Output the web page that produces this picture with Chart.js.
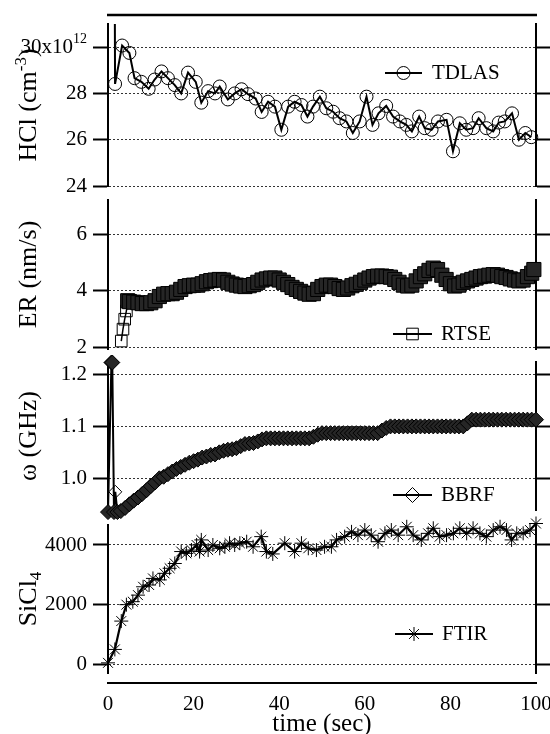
<!DOCTYPE html>
<html>
<head>
<meta charset="utf-8">
<script src="https://cdn.jsdelivr.net/npm/chart.js@4.4.1/dist/chart.umd.min.js"></script>
<style>
  html, body { margin: 0; padding: 0; background: #fff; }
  #wrap { position: relative; width: 550px; height: 734px; overflow: hidden; }
  canvas { position: absolute; left: 0; }
</style>
</head>
<body>
<div id="wrap">
  <canvas id="pHcl" width="550" height="200" style="top:0px"></canvas>
  <canvas id="pEr" width="550" height="172" style="top:188px"></canvas>
  <canvas id="pW" width="550" height="172" style="top:350px"></canvas>
  <canvas id="pSi" width="550" height="221" style="top:513px"></canvas>
</div>
<script>
// ---- data ----
const xTicks = [0, 20, 40, 60, 80, 100];

// TDLAS (HCl, units of 1e12 cm^-3); first point is the off-scale spike
const hclTime = [1.55, 1.65, 3.3, 5.0, 6.2, 7.8, 9.5, 10.9, 12.5, 14.0, 15.6, 17.1, 18.7, 20.5, 21.8, 23.4, 25.0,
  26.1, 28.0, 29.6, 31.2, 32.7, 34.5, 35.9, 37.4, 39.0, 40.5, 42.1, 43.6, 45.2, 46.6, 47.9, 49.5, 51.0, 52.6, 54.1,
  55.7, 57.2, 58.8, 60.4, 61.8, 63.2, 65.0, 66.6, 68.2, 69.7, 71.0, 72.7, 74.0, 75.6, 77.1, 79.1, 80.6, 82.2, 83.7,
  85.3, 86.6, 88.4, 90.0, 91.3, 92.7, 94.4, 96.0, 97.5, 98.9];
const hclValue = [34, 28.41, 30.07, 29.75, 28.66, 28.5, 28.2, 28.6, 28.95, 28.66, 28.36, 28.0, 28.9, 28.5, 27.6, 28.1, 28.0,
  28.3, 27.74, 28.0, 28.18, 27.97, 27.78, 27.2, 27.64, 27.43, 26.43, 27.43, 27.64, 27.5, 27.0, 27.43, 27.86, 27.36, 27.21, 26.93,
  26.79, 26.29, 26.79, 27.86, 26.64, 27.14, 27.46, 27.0, 26.79, 26.64, 26.36, 27.0, 26.5, 26.43, 26.79, 26.86, 25.5, 26.71, 26.43,
  26.5, 26.93, 26.5, 26.36, 26.74, 26.79, 27.14, 26.0, 26.29, 26.11];
const hclTicks = [24, 26, 28, 30];

// RTSE etch rate (nm/s)
const rtseTime = [3.1, 3.5, 3.9, 4.3, 4.6, 5, 6, 7, 8, 9, 10, 11, 12, 13, 14, 15, 16, 17, 18, 19, 20, 21, 22, 23, 24,
  25, 26, 27, 28, 29, 30, 31, 32, 33, 34, 35, 36, 37, 38, 39, 40, 41, 42, 43, 44, 45, 46, 47, 48, 49, 50, 51, 52,
  53, 54, 55, 56, 57, 58, 59, 60, 61, 62, 63, 64, 65, 66, 67, 68, 69, 70, 71, 72, 73, 74, 75, 76, 77, 78, 79, 80,
  81, 82, 83, 84, 85, 86, 87, 88, 89, 90, 91, 92, 93, 94, 95, 96, 97, 98, 99, 99.5];
const rtseValue = [2.23, 2.65, 3.0, 3.29, 3.65, 3.62, 3.6, 3.58, 3.55, 3.55, 3.58, 3.65, 3.8, 3.88, 3.9, 3.9, 3.95, 4.05,
  4.15, 4.18, 4.2, 4.2, 4.25, 4.32, 4.36, 4.38, 4.4, 4.38, 4.3, 4.24, 4.2, 4.17, 4.15, 4.18, 4.22, 4.3, 4.38, 4.42, 4.45,
  4.45, 4.38, 4.3, 4.22, 4.12, 4.05, 3.98, 3.92, 3.88, 3.9, 4.05, 4.15, 4.2, 4.2, 4.15, 4.08, 4.05, 4.1, 4.18, 4.23, 4.3,
  4.38, 4.45, 4.5, 4.52, 4.52, 4.5, 4.48, 4.4, 4.3, 4.2, 4.17, 4.2, 4.35, 4.5, 4.6, 4.72, 4.8, 4.75, 4.55, 4.4, 4.25,
  4.17, 4.2, 4.3, 4.35, 4.4, 4.45, 4.5, 4.52, 4.55, 4.57, 4.55, 4.5, 4.47, 4.42, 4.38, 4.35, 4.38, 4.5, 4.62, 4.75];
const erTicks = [2, 4, 6];

// BBRF frequency (GHz)
const bbrfTime = [0, 0.8, 1.0, 1.4, 1.7, 2.2, 3, 4, 5, 6, 7, 8, 9, 10, 11, 12, 13, 14, 15, 16, 17, 18, 19, 20, 21,
  22, 23, 24, 25, 26, 27, 28, 29, 30, 31, 32, 33, 34, 35, 36, 37, 38, 39, 40, 41, 42, 43, 44, 45, 46, 47, 48, 49,
  50, 51, 52, 53, 54, 55, 56, 57, 58, 59, 60, 61, 62, 63, 64, 65, 66, 67, 68, 69, 70, 71, 72, 73, 74, 75, 76, 77,
  78, 79, 80, 81, 82, 83, 84, 85, 86, 87, 88, 89, 90, 91, 92, 93, 94, 95, 96, 97, 98, 99, 100];
const bbrfValue = [0.935, 1.223, 1.223, 0.935, 0.974, 0.935, 0.937, 0.943, 0.95, 0.957, 0.963, 0.97, 0.977, 0.985,
  0.992, 1.0, 1.003, 1.008, 1.013, 1.018, 1.022, 1.026, 1.03, 1.033, 1.036, 1.04, 1.042, 1.045, 1.046, 1.05, 1.053,
  1.055, 1.056, 1.058, 1.062, 1.066, 1.067, 1.068, 1.071, 1.075, 1.077, 1.077, 1.077, 1.077, 1.077, 1.077, 1.077,
  1.077, 1.077, 1.077, 1.077, 1.08, 1.084, 1.087, 1.087, 1.087, 1.087, 1.087, 1.087, 1.087, 1.087, 1.087, 1.087,
  1.087, 1.087, 1.087, 1.087, 1.092, 1.097, 1.1, 1.1, 1.1, 1.1, 1.1, 1.1, 1.1, 1.1, 1.1, 1.1, 1.1, 1.1, 1.1, 1.1,
  1.1, 1.1, 1.1, 1.1, 1.106, 1.113, 1.113, 1.113, 1.113, 1.113, 1.113, 1.113, 1.113, 1.113, 1.113, 1.113, 1.113,
  1.113, 1.113, 1.113, 1.113];
const wTicks = [1.0, 1.1, 1.2];

// FTIR SiCl4 signal
const ftirTime = [0.0, 1.6, 3.1, 4.3, 5.8, 7.0, 8.2, 9.6, 10.5, 12.1, 13.2, 14.4, 15.6, 17.1, 18.3, 19.5, 20.7, 21.4,
  21.8, 23.4, 24.5, 26.1, 27.3, 28.4, 29.6, 30.8, 32.4, 33.9, 35.8, 37.0, 38.5, 41.3, 43.6, 45.2, 46.8, 48.7, 50.6,
  52.2, 53.4, 55.3, 56.9, 58.4, 60.0, 61.5, 63.1, 64.7, 66.2, 67.8, 69.8, 71.3, 73.2, 74.8, 76.0, 77.5, 79.1, 80.7,
  82.2, 83.8, 85.3, 86.9, 88.4, 90.0, 91.6, 93.1, 94.3, 95.5, 97.0, 98.6, 100.0];
const ftirValue = [50, 500, 1450, 2000, 2100, 2320, 2600, 2660, 2880, 2830, 3050, 3220, 3380, 3780, 3720, 3830, 4000,
  3780, 4170, 3830, 4000, 3890, 3940, 4060, 4000, 4060, 4110, 3940, 4280, 3780, 3700, 4060, 3780, 4060, 3890, 3830,
  3940, 3940, 4170, 4280, 4440, 4330, 4500, 4330, 4110, 4390, 4500, 4330, 4610, 4330, 4170, 4390, 4560, 4280, 4330,
  4390, 4560, 4390, 4560, 4390, 4280, 4500, 4610, 4500, 4170, 4390, 4390, 4500, 4720];
const siTicks = [0, 2000, 4000];

// ---- drawing ----
const FONT = '"Liberation Serif", "Times New Roman", serif';
Chart.defaults.font.family = FONT;
Chart.defaults.font.size = 21;
Chart.defaults.color = '#000';

const CLEAR = 'rgba(0,0,0,0)';
const BAND = '#262626';   // densely overlapped markers read as a dark band

function pts(xs, ys) { return xs.map((x, i) => ({ x: x, y: ys[i] })); }

// text made of pieces (for super/subscripts); dy shifts a piece off the baseline
function drawRich(ctx, segs, cx, cy, rotate, base) {
  ctx.save();
  ctx.translate(cx, cy);
  if (rotate) ctx.rotate(-Math.PI / 2);
  const widths = segs.map(s => { ctx.font = s.size + 'px ' + FONT; return ctx.measureText(s.t).width; });
  let x = -widths.reduce((a, b) => a + b, 0) / 2;
  ctx.textAlign = 'left';
  ctx.textBaseline = 'alphabetic';
  segs.forEach((s, i) => {
    ctx.font = s.size + 'px ' + FONT;
    ctx.fillText(s.t, x, base + s.dy);
    x += widths[i];
  });
  ctx.restore();
}

// per-panel decorations: axis title, legend, frame lines, exponent label
function makeDecor(d) {
  return {
    id: 'decor',
    afterDraw(chart) {
      const ctx = chart.ctx, a = chart.chartArea, top = d.canvasTop;
      ctx.save();
      ctx.fillStyle = '#000';
      ctx.strokeStyle = '#000';
      drawRich(ctx, d.title, 27, (a.top + a.bottom) / 2, true, 9);

      const lg = d.legend;
      ctx.lineWidth = 2;
      ctx.beginPath();
      ctx.moveTo(lg.x1, lg.y - top);
      ctx.lineTo(lg.x2, lg.y - top);
      ctx.stroke();
      ctx.fillStyle = CLEAR;
      ctx.lineWidth = 1;
      Chart.helpers.drawPoint(ctx, { pointStyle: lg.marker, radius: lg.radius, borderWidth: 1, rotation: 0 },
        (lg.x1 + lg.x2) / 2, lg.y - top);
      ctx.fillStyle = '#000';
      ctx.font = '21px ' + FONT;
      ctx.textAlign = 'left';
      ctx.textBaseline = 'middle';
      ctx.fillText(lg.text, lg.tx, lg.y - top);

      if (d.topLine) {
        ctx.lineWidth = 2.5;
        ctx.beginPath();
        ctx.moveTo(a.left - 1, d.topLine - top);
        ctx.lineTo(a.right + 1, d.topLine - top);
        ctx.stroke();
      }
      if (d.bottomLine) {
        ctx.lineWidth = 2;
        ctx.beginPath();
        ctx.moveTo(a.left - 1, d.bottomLine - top);
        ctx.lineTo(a.right + 1, d.bottomLine - top);
        ctx.stroke();
        drawRich(ctx, [{ t: 'time (sec)', size: 25, dy: 0 }], (a.left + a.right) / 2, d.xTitleBase - top, false, 0);
      }
      if (d.expTick !== undefined) {
        const y = chart.scales.y.getPixelForValue(d.expTick);
        const right = a.left - 15 - 6;
        ctx.textBaseline = 'middle';
        ctx.textAlign = 'right';
        ctx.font = '14px ' + FONT;
        const w12 = ctx.measureText('12').width;
        ctx.fillText('12', right, y - 8);
        ctx.font = '21px ' + FONT;
        ctx.fillText(d.expTick + 'x10', right - w12, y);
      }
      ctx.restore();
    }
  };
}

function panel(id, p) {
  const bottomAxis = !!p.bottomAxis;
  const open = p.open || [];
  const isBand = i => p.dense && open.indexOf(i) < 0;
  return new Chart(document.getElementById(id), {
    type: 'line',
    data: {
      datasets: [{
        label: p.decor.legend.text,
        data: pts(p.xs, p.ys),
        borderColor: '#000',
        borderWidth: p.lineWidth,
        pointStyle: p.marker,
        pointRadius: c => (isBand(c.dataIndex) ? p.bandRadius : p.radius),
        pointBorderColor: '#000',
        pointBackgroundColor: c => (isBand(c.dataIndex) ? BAND : CLEAR),
        pointBorderWidth: p.markerWidth,
        tension: 0,
        clip: p.clip
      }]
    },
    options: {
      responsive: false,
      animation: false,
      events: [],
      layout: { padding: { left: 0, right: 0, top: p.padTop, bottom: p.padBottom } },
      plugins: { legend: { display: false }, tooltip: { enabled: false } },
      scales: {
        x: {
          type: 'linear', min: 0, max: 100, display: bottomAxis,
          afterBuildTicks: s => { s.ticks = xTicks.map(v => ({ value: v })); },
          afterFit: s => {
            if (bottomAxis) s.height = 61;
            s.paddingLeft = 0; s.paddingRight = 0;
          },
          grid: { display: false },
          border: { display: false },
          ticks: { padding: 11, font: { size: 21 }, maxRotation: 0, autoSkip: false }
        },
        y: {
          type: 'linear', position: 'left', min: p.min, max: p.max,
          afterBuildTicks: s => { s.ticks = p.ticks.map(v => ({ value: v })); },
          afterFit: s => { s.width = 108; s.paddingTop = 0; s.paddingBottom = 0; },
          grid: { color: '#333', lineWidth: 1, tickLength: 15, tickColor: '#000', tickWidth: 2 },
          border: { display: true, color: '#000', width: 2, dash: [2, 2] },
          ticks: { padding: 6, font: { size: 21 }, callback: p.fmt }
        },
        y2: {
          type: 'linear', position: 'right', min: p.min, max: p.max,
          afterBuildTicks: s => { s.ticks = p.ticks.map(v => ({ value: v })); },
          afterFit: s => { s.width = 14; s.paddingTop = 0; s.paddingBottom = 0; },
          grid: { drawOnChartArea: false, tickLength: 14, tickColor: '#000', tickWidth: 2 },
          border: { display: true, color: '#000', width: 2 },
          ticks: { display: false }
        }
      }
    },
    plugins: [makeDecor(p.decor)]
  });
}

panel('pHcl', {
  xs: hclTime, ys: hclValue, ticks: hclTicks, min: 24, max: 31,
  fmt: v => (v === 30 ? '' : String(v)),
  marker: 'circle', radius: 6.5, markerWidth: 1, lineWidth: 2,
  clip: { left: 10, right: 10, top: 0, bottom: 10 },
  padTop: 24, padBottom: 14,
  decor: {
    canvasTop: 0, topLine: 15, expTick: 30,
    title: [{ t: 'HCl (cm', size: 26, dy: 0 }, { t: '-3', size: 17, dy: -10 }, { t: ')', size: 26, dy: 0 }],
    legend: { text: 'TDLAS', x1: 385, x2: 422, y: 73, tx: 432, marker: 'circle', radius: 6.5 }
  }
});

panel('pEr', {
  xs: rtseTime, ys: rtseValue, ticks: erTicks, min: 1.95, max: 7.2,
  fmt: v => String(v),
  marker: 'rect', radius: 8.2, bandRadius: 10, markerWidth: 1, lineWidth: 1.5,
  dense: true, open: [0, 1, 2, 3],
  clip: false,
  padTop: 12, padBottom: 11,
  decor: {
    canvasTop: 188,
    title: [{ t: 'ER (nm/s)', size: 26, dy: 0 }],
    legend: { text: 'RTSE', x1: 393, x2: 432, y: 334, tx: 441, marker: 'rect', radius: 8.2 }
  }
});

panel('pW', {
  xs: bbrfTime, ys: bbrfValue, ticks: wTicks, min: 0.939, max: 1.224,
  fmt: v => v.toFixed(1),
  marker: 'rectRot', radius: 6.5, bandRadius: 7.5, markerWidth: 1, lineWidth: 2,
  dense: true, open: [4],
  clip: false,
  padTop: 12, padBottom: 12,
  decor: {
    canvasTop: 350,
    title: [{ t: 'ω (GHz)', size: 26, dy: 0 }],
    legend: { text: 'BBRF', x1: 393, x2: 432, y: 495, tx: 441, marker: 'rectRot', radius: 7.5 }
  }
});

panel('pSi', {
  xs: ftirTime, ys: ftirValue, ticks: siTicks, min: -290, max: 4670,
  fmt: v => String(v),
  marker: 'star', radius: 7, markerWidth: 1, lineWidth: 2.2,
  clip: false, bottomAxis: true,
  padTop: 12, padBottom: 0,
  decor: {
    canvasTop: 513, bottomLine: 683, xTitleBase: 731,
    title: [{ t: 'SiCl', size: 26, dy: 0 }, { t: '4', size: 17, dy: 5 }],
    legend: { text: 'FTIR', x1: 395, x2: 433, y: 634, tx: 442, marker: 'star', radius: 7 }
  }
});
</script>
</body>
</html>
